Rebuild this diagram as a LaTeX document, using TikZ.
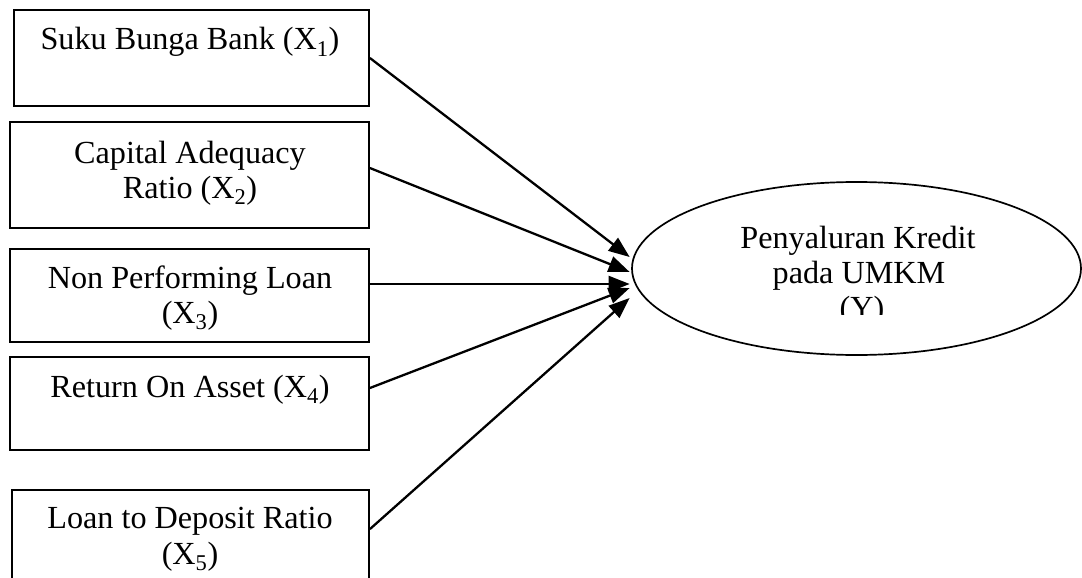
\documentclass[tikz,border=0pt]{standalone}
\usepackage{fontspec}
\setmainfont{Liberation Serif}
\usetikzlibrary{shapes.geometric,arrows.meta}
\tikzset{
  varbox/.style={draw=black, line width=1.8pt, rectangle, inner sep=0pt},
  lbl/.style={anchor=base, inner sep=0pt, font=\fontsize{32.2}{35.5}\selectfont},
  latent/.style={draw=black, line width=1.7pt, ellipse, inner sep=0pt},
  link/.style={line width=2.3pt, -{Triangle[length=21pt,width=16pt]}}
}
\begin{document}
\begin{tikzpicture}[x=1pt,y=-1pt]
\useasboundingbox (0,0) rectangle (1082,578);
\clip (0,0) rectangle (1082,578);
% boxes
\node[varbox, minimum width=355pt, minimum height=96pt] (b1) at (191.5,58) {};
\node[varbox, minimum width=359pt, minimum height=106pt] (b2) at (189.5,175) {};
\node[varbox, minimum width=359pt, minimum height=93pt] (b3) at (189.5,295.5) {};
\node[varbox, minimum width=359pt, minimum height=93pt] (b4) at (189.5,403.5) {};
\node[varbox, minimum width=357pt, minimum height=130pt] (b5) at (190.5,555) {};
% box texts
\node[lbl] (t1) at (190,50) {Suku Bunga Bank (X\textsubscript{1})};
\node[lbl] (t2a) at (190,163) {Capital Adequacy};
\node[lbl] (t2b) at (190,198.5) {Ratio (X\textsubscript{2})};
\node[lbl] (t3a) at (190,288) {Non Performing Loan};
\node[lbl] (t3b) at (190,323) {(X\textsubscript{3})};
\node[lbl] (t4) at (190,397) {Return On Asset (X\textsubscript{4})};
\node[lbl] (t5a) at (190,528) {Loan to Deposit Ratio};
\node[lbl] (t5b) at (190,564) {(X\textsubscript{5})};
% ellipse
\node[latent, minimum width=449pt, minimum height=173pt] (e) at (856.5,268.5) {};
\node[lbl] (ey1) at (858,248) {Penyaluran Kredit};
\node[lbl] (ey2) at (859,283) {pada UMKM};
\begin{scope}
\clip (700,250) rectangle (1000,314);
\node[lbl] (ey3) at (862,318) {(Y)};
\end{scope}
% arrows
\draw[link] (b1.east) -- ([xshift=-1.5pt,yshift=11.5pt]e.west);
\draw[link] ([yshift=7pt]b2.east) -- ([xshift=-1.5pt,yshift=-3.5pt]e.west);
\draw[link] ([yshift=11.5pt]b3.east) -- ([xshift=-1.5pt,yshift=-15.5pt]e.west);
\draw[link] ([yshift=15.5pt]b4.east) -- ([xshift=-1.5pt,yshift=-19.5pt]e.west);
\draw[link] ([yshift=-40pt]b5.north east) -- ([xshift=-1.5pt,yshift=-29.5pt]e.west);
\end{tikzpicture}
\end{document}
